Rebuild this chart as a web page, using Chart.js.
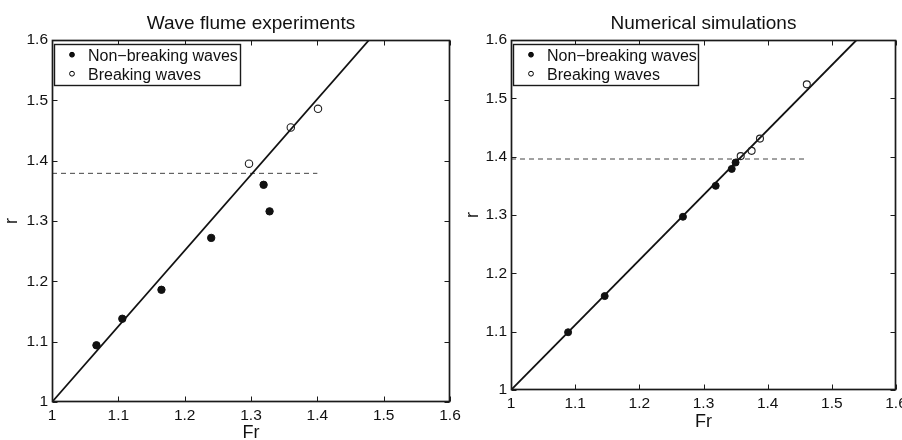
<!DOCTYPE html>
<html><head><meta charset="utf-8">
<script src="https://cdn.jsdelivr.net/npm/chart.js@4"></script>
<style>
html,body{margin:0;padding:0;background:#fff;overflow:hidden;width:902px;height:440px;}
canvas{position:absolute;top:0;}
#c1{left:0;} #c2{left:460px;}
</style></head><body>
<canvas id="c1" width="470" height="440"></canvas>
<canvas id="c2" width="442" height="440"></canvas>
<script>
// ---- data ----
const axisTicks = [1, 1.1, 1.2, 1.3, 1.4, 1.5, 1.6];
const legendLabels = ['Non\u2212breaking waves', 'Breaking waves'];
const xAxisLabel = 'Fr';
const yAxisLabel = 'r';

const flumeTitle = 'Wave flume experiments';
const flumeNonBreakingFr = [1.067, 1.106, 1.165, 1.240, 1.319, 1.328];
const flumeNonBreakingR  = [1.094, 1.138, 1.186, 1.272, 1.360, 1.316];
const flumeBreakingFr    = [1.297, 1.360, 1.401];
const flumeBreakingR     = [1.395, 1.455, 1.486];
const flumeFitFr         = [1.0, 1.478];
const flumeFitR          = [1.0, 1.6];
const flumeThresholdFr   = [1.0, 1.4];
const flumeThresholdR    = [1.379, 1.379];

const simTitle = 'Numerical simulations';
const simNonBreakingFr = [1.089, 1.146, 1.268, 1.319, 1.344, 1.350];
const simNonBreakingR  = [1.099, 1.161, 1.297, 1.350, 1.379, 1.390];
const simBreakingFr    = [1.358, 1.375, 1.388, 1.461];
const simBreakingR     = [1.401, 1.410, 1.431, 1.524];
const simFitFr         = [1.0, 1.5385];
const simFitR          = [1.0, 1.6];
const simThresholdFr   = [1.0, 1.46];
const simThresholdR    = [1.396, 1.396];

// ---- helpers ----
const FONT = "'Liberation Sans', Arial, Helvetica, sans-serif";
const pts = (xs, ys) => xs.map((x, i) => ({x, y: ys[i]}));

const decorPlugin = {
  id: 'decor',
  afterDatasetsDraw(chart) {
    const o = chart.options.plugins.decor;
    const {ctx, chartArea: a, scales: {x, y}} = chart;
    ctx.save();
    // frame
    ctx.strokeStyle = '#1a1a1a';
    ctx.lineWidth = 1.7;
    const L = Math.round(a.left) + 0.5, R = Math.round(a.right) - 0.5;
    const T = Math.round(a.top) + 0.5, B = Math.round(a.bottom) - 0.5;
    ctx.strokeRect(L, T, R - L, B - T);
    // inward ticks on all four sides
    const tl = 5;
    ctx.lineWidth = 1;
    ctx.beginPath();
    x.ticks.forEach(t => {
      const p = Math.round(x.getPixelForValue(t.value)) + 0.5;
      ctx.moveTo(p, B); ctx.lineTo(p, B - tl);
      ctx.moveTo(p, T); ctx.lineTo(p, T + tl);
    });
    y.ticks.forEach(t => {
      const p = Math.round(y.getPixelForValue(t.value)) + 0.5;
      ctx.moveTo(L, p); ctx.lineTo(L + tl, p);
      ctx.moveTo(R, p); ctx.lineTo(R - tl, p);
    });
    ctx.stroke();
    // title
    ctx.fillStyle = '#111';
    ctx.font = '19px ' + FONT;
    ctx.textAlign = 'center';
    ctx.textBaseline = 'alphabetic';
    ctx.fillText(o.title, (a.left + a.right) / 2, 28.5);
    // legend
    const lx = a.left + 2, ly = 44, lw = o.legendWidth, lh = 41;
    ctx.fillStyle = '#fff';
    ctx.fillRect(lx, ly, lw, lh);
    ctx.strokeStyle = '#1a1a1a';
    ctx.lineWidth = 1.4;
    ctx.strokeRect(lx + 0.5, ly + 0.5, lw, lh);
    ctx.font = '16px ' + FONT;
    ctx.textAlign = 'left';
    const baselines = [60.7, 79.7];
    [0, 1].forEach(i => {
      const ds = chart.data.datasets[i];
      const cx = lx + 18, cy = baselines[i] - 6;
      ctx.beginPath();
      ctx.arc(cx, cy, 2.4, 0, Math.PI * 2);
      ctx.fillStyle = ds.pointBackgroundColor;
      ctx.fill();
      ctx.strokeStyle = '#000';
      ctx.lineWidth = 1;
      ctx.stroke();
      ctx.fillStyle = '#111';
      ctx.fillText(ds.label, lx + 34, baselines[i]);
    });
    ctx.restore();
  }
};

function makeChart(id, g) {
  return new Chart(document.getElementById(id), {
    type: 'scatter',
    data: {
      datasets: [
        {label: legendLabels[0], data: pts(g.nbFr, g.nbR), pointRadius: g.r, pointBackgroundColor: '#111',
         pointBorderColor: '#111', pointBorderWidth: 1, showLine: false},
        {label: legendLabels[1], data: pts(g.bFr, g.bR), pointRadius: g.r, pointBackgroundColor: 'rgba(0,0,0,0)',
         pointBorderColor: '#222', pointBorderWidth: 1.1, showLine: false},
        {label: 'fit', data: pts(g.fitFr, g.fitR), showLine: true, borderColor: '#111', borderWidth: 1.8,
         pointRadius: 0, fill: false},
        {label: 'threshold', data: pts(g.thFr, g.thR), showLine: true, borderColor: '#444', borderWidth: 1,
         borderDash: [5, 4], pointRadius: 0, fill: false}
      ]
    },
    options: {
      responsive: false,
      animation: false,
      devicePixelRatio: 1,
      layout: {padding: {top: 40, right: g.padRight, bottom: 0, left: 0}},
      plugins: {
        legend: {display: false},
        title: {display: false},
        tooltip: {enabled: false},
        decor: {title: g.title, legendWidth: g.legendWidth}
      },
      scales: {
        x: {
          type: 'linear', min: 1, max: 1.6,
          grid: {display: false, drawTicks: false},
          border: {display: false},
          afterBuildTicks: s => { s.ticks = axisTicks.map(v => ({value: v})); },
          afterFit: s => { s.height = g.xHeight; s.paddingLeft = 0; s.paddingRight = 0; s.paddingTop = 0; s.paddingBottom = 0; },
          ticks: {color: '#111', padding: 4, maxRotation: 0, autoSkip: false,
                  font: {family: FONT, size: 15.5}, callback: v => String(v)},
          title: {display: true, text: xAxisLabel, color: '#111',
                  font: {family: FONT, size: 18, lineHeight: 0.8}, padding: {top: 0, bottom: g.xTitlePad}}
        },
        y: {
          type: 'linear', min: 1, max: 1.6,
          grid: {display: false, drawTicks: false},
          border: {display: false},
          afterBuildTicks: s => { s.ticks = axisTicks.map(v => ({value: v})); },
          afterFit: s => { s.width = g.yWidth; s.paddingLeft = 0; s.paddingRight = 0; s.paddingTop = 0; s.paddingBottom = 0; },
          ticks: {color: '#111', padding: 4, autoSkip: false,
                  font: {family: FONT, size: 15.5}, callback: v => String(v)},
          title: {display: true, text: yAxisLabel, color: '#111',
                  font: {family: FONT, size: 18, lineHeight: 1.2}, padding: {top: g.yTitlePad, bottom: 0}}
        }
      }
    },
    plugins: [decorPlugin]
  });
}

makeChart('c1', {
  title: flumeTitle,
  nbFr: flumeNonBreakingFr, nbR: flumeNonBreakingR,
  bFr: flumeBreakingFr, bR: flumeBreakingR,
  fitFr: flumeFitFr, fitR: flumeFitR,
  thFr: flumeThresholdFr, thR: flumeThresholdR,
  r: 3.7, padRight: 20, yWidth: 52, xHeight: 38, xTitlePad: 0, yTitlePad: 1, legendWidth: 186
});
makeChart('c2', {
  title: simTitle,
  nbFr: simNonBreakingFr, nbR: simNonBreakingR,
  bFr: simBreakingFr, bR: simBreakingR,
  fitFr: simFitFr, fitR: simFitR,
  thFr: simThresholdFr, thR: simThresholdR,
  r: 3.5, padRight: 6, yWidth: 51, xHeight: 50, xTitlePad: 11, yTitlePad: 2, legendWidth: 185
});
</script>
</body></html>
